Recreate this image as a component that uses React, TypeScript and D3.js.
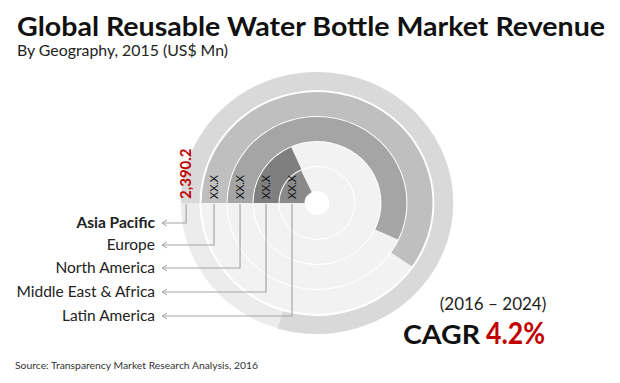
import React from "react";
import * as d3 from "d3";

const regions = ["Asia Pacific", "Europe", "North America", "Middle East & Africa", "Latin America"];
const values = [2390.2, 1790, 1710, 550, 540];
const valueLabels = ["2,390.2", "XX.X", "XX.X", "XX.X", "XX.X"];
const barColors = ["#d9d9d9", "#bfbfbf", "#a5a5a5", "#7f7f7f", "#8a8a8a"];
const maxValue = 3000;

const W = 620;
const H = 383;
const cx = 317;
const cy = 203;
const sx = 1.04;
const outerR = [131, 111, 86, 61, 36];
const innerR = [113, 87, 62, 37, 12];
const labelLineY = [223, 245, 268, 292, 316];

export default function App() {
  const angle = d3.scaleLinear().domain([0, maxValue]).range([0, 2 * Math.PI]);
  const start = -Math.PI / 2;
  const arc = d3.arc<any>();
  const font = "Lato, 'DejaVu Sans', sans-serif";

  return (
    <svg width={W} height={H} style={{ position: "absolute", left: 0, top: 0, background: "#fff" }}>
      <rect width={W} height={H} fill="#fff" />
      <text x={17} y={36} fontFamily={font} fontWeight={700} fontSize={26} fill="#111" textLength={588} lengthAdjust="spacingAndGlyphs">
        Global Reusable Water Bottle Market Revenue
      </text>
      <text x={17} y={56} fontFamily={font} fontSize={15} fill="#222" textLength={211} lengthAdjust="spacingAndGlyphs">
        By Geography, 2015 (US$ Mn)
      </text>
      <g transform={`translate(${cx},${cy}) scale(${sx},1)`}>
        {regions.map((r, i) => (
          <path key={"t" + r} d={arc({ innerRadius: innerR[i], outerRadius: outerR[i], startAngle: 0, endAngle: 2 * Math.PI }) as string} fill={i === 0 ? "#ececec" : "#f2f2f2"} />
        ))}
        {regions.map((r, i) => (
          <path key={"b" + r} d={arc({ innerRadius: innerR[i], outerRadius: outerR[i], startAngle: start, endAngle: start + angle(values[i]) }) as string} fill={barColors[i]} />
        ))}
      </g>
      {regions.map((r, i) => {
        const x = cx - sx * (innerR[i] + outerR[i]) / 2 - (i === 0 ? 4 : 0);
        const ly = labelLineY[i];
        return (
          <g key={"l" + r}>
            <path d={`M${x},${cy + 1}V${ly}H${162}`} fill="none" stroke="#a6a6a6" strokeWidth={1.2} />
            <path d={`M${167},${ly - 3}L${162},${ly}L${167},${ly + 3}`} fill="none" stroke="#a6a6a6" strokeWidth={1} />
            <text x={155} y={ly + 5} textAnchor="end" fontFamily={font} fontSize={15.5} fontWeight={i === 0 ? 700 : 400} fill="#222">
              {r}
            </text>
            <text transform={`translate(${x + (i === 0 ? 5 : 3.5)},${cy - 4}) rotate(-90)`} fontFamily={font} fontSize={i === 0 ? 15 : 11} fontWeight={i === 0 ? 700 : 400} fill={i === 0 ? "#c00000" : "#111"}>
              {valueLabels[i]}
            </text>
          </g>
        );
      })}
      <text x={493} y={310} textAnchor="middle" fontFamily={font} fontSize={17} fill="#222">
        (2016 – 2024)
      </text>
      <text x={403} y={344} fontFamily={font} fontSize={26} fontWeight={700} fill="#111" textLength={77} lengthAdjust="spacingAndGlyphs">
        CAGR
      </text>
      <text x={486} y={344} fontFamily={font} fontSize={31} fontWeight={700} fill="#c00000" textLength={59} lengthAdjust="spacingAndGlyphs">
        4.2%
      </text>
      <text x={15} y={369} fontFamily={font} fontSize={9} fill="#333" textLength={243} lengthAdjust="spacingAndGlyphs">
        Source: Transparency Market Research Analysis, 2016
      </text>
    </svg>
  );
}
